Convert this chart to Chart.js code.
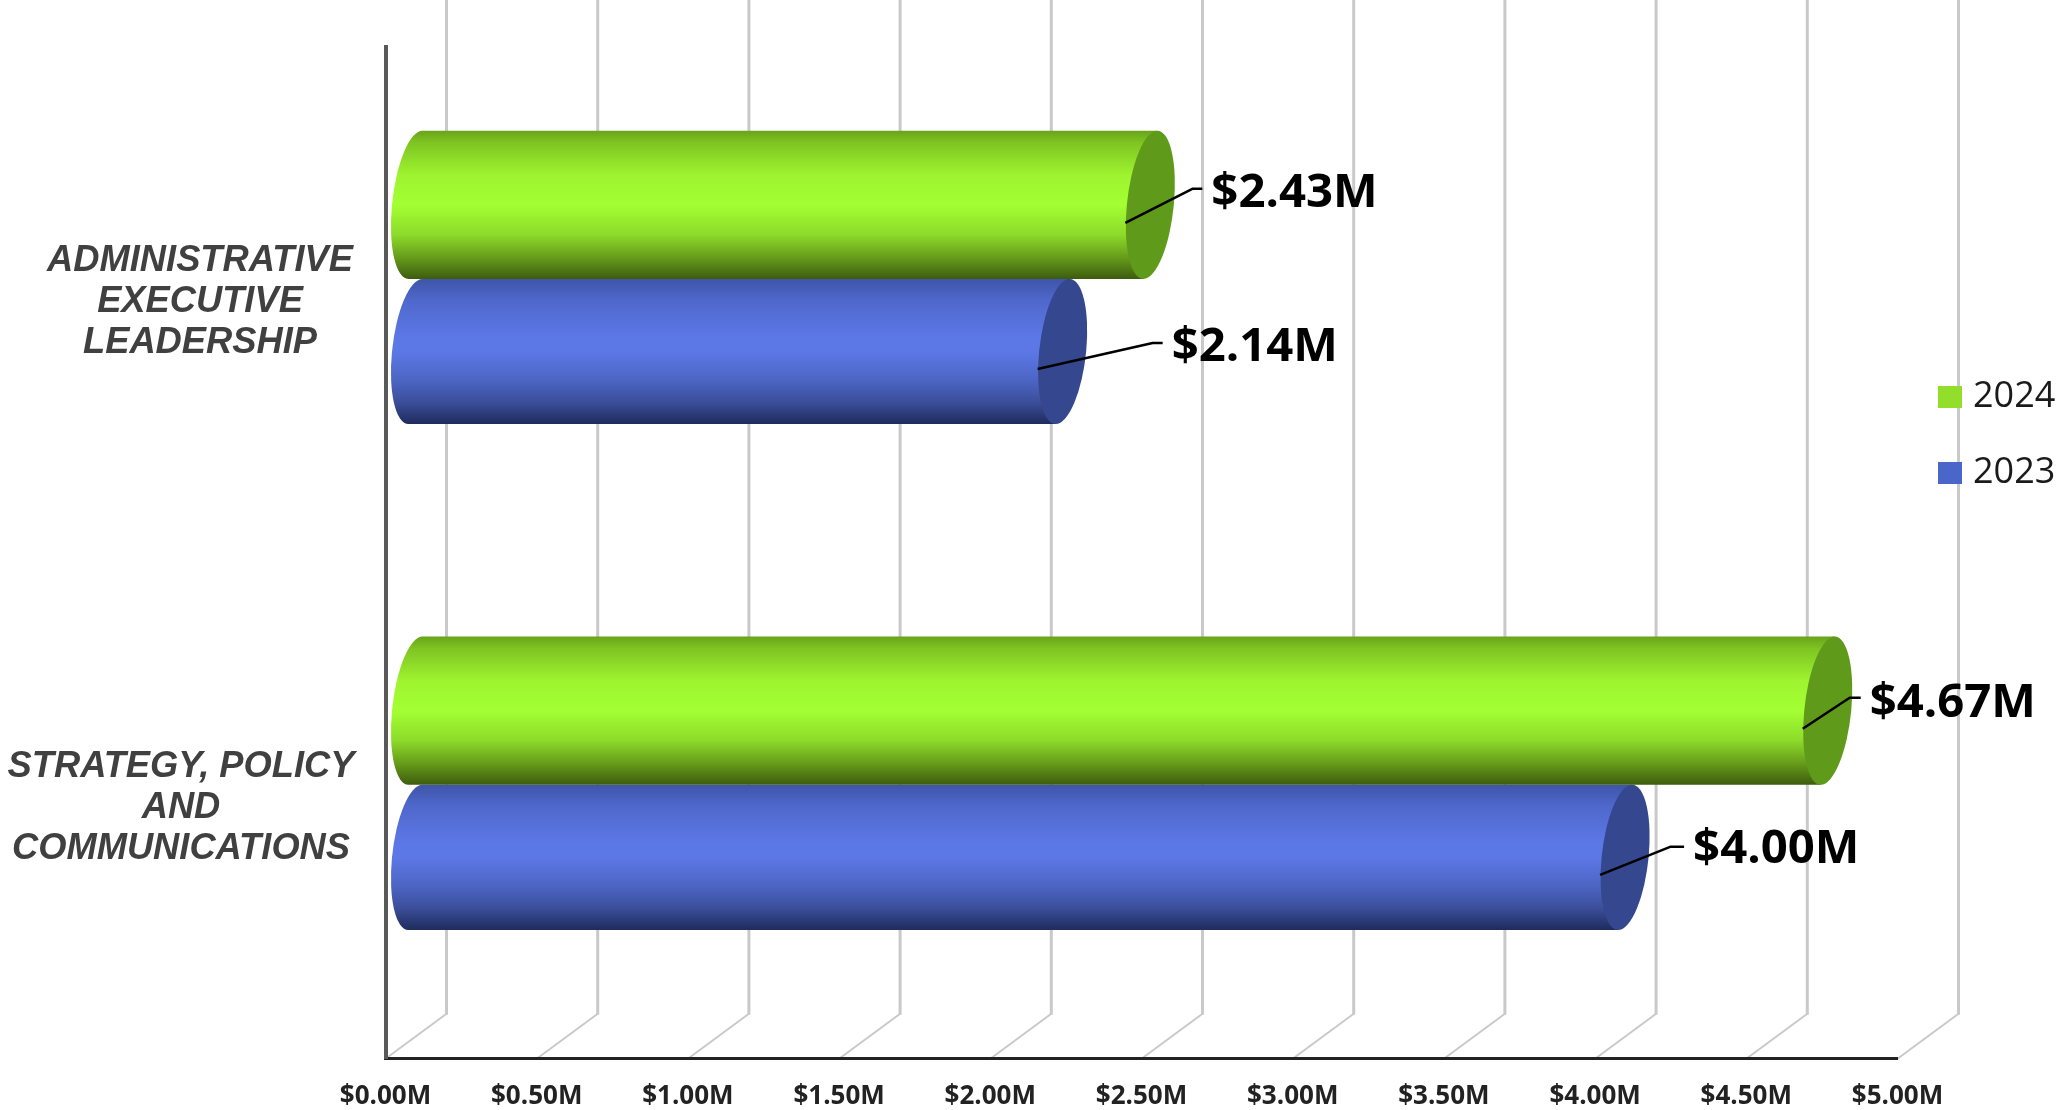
<!DOCTYPE html>
<html>
<head>
<meta charset="utf-8">
<style>html,body{margin:0;padding:0;background:#fff}canvas{display:block}</style>
<script src="https://cdn.jsdelivr.net/npm/chart.js@4/dist/chart.umd.min.js"></script>
</head>
<body>
<canvas id="c" width="2059" height="1110"></canvas>
<script>
const categories = [
  ["ADMINISTRATIVE", "EXECUTIVE", "LEADERSHIP"],
  ["STRATEGY, POLICY", "AND", "COMMUNICATIONS"]
];
const years = ["2024", "2023"];
const values2024 = [2.43, 4.67];
const values2023 = [2.14, 4.00];
const swatches = ["#93de2b", "#4a66c8"];

// styling and layout constants
const DEPTH_X = 61, DEPTH_Y = 45;          // floor depth of the 3D box
const MID_X = 30, MID_Y = 21;              // cylinders sit mid-depth
const CAP_RX = 23.5, CAP_SHEAR = 7;
const GROW = [2, -1];                      // green reads slightly thicker than blue
const GREEN_STOPS = [[0,"#6aa31a"],[.08,"#7fc422"],[.3,"#9ef42f"],[.5,"#a3ff33"],[.7,"#8ddb2a"],[.85,"#689e1b"],[1,"#3d5c0e"]];
const BLUE_STOPS = [[0,"#3f55a8"],[.15,"#4f68cc"],[.4,"#5c78e6"],[.5,"#5c78e6"],[.7,"#4c65c3"],[.85,"#3b4e9a"],[1,"#1f2b5c"]];
const STOPS = [GREEN_STOPS, BLUE_STOPS];
const CAPS = ["#5f9a1b", "#34478f"];
const CATEGORY_CENTER_X = [200, 181];
// leader geometry per dataset / category, relative to the bar end
const LEADERS = [
  [{tx:91, ty:-12.5, ex:72, ey:-17}, {tx:72, ty:-8.5, ex:52, ey:-14}],
  [{tx:139, ty:-4.5, ex:120, ey:-9}, {tx:98, ty:-8.5, ex:75, ey:-11}]
];

const cylinder3d = {
  id: "cylinder3d",
  beforeDraw(chart) {
    const {ctx, scales:{x}, chartArea} = chart;
    ctx.save();
    ctx.strokeStyle = "#c9c9c9";
    ctx.lineJoin = "miter";
    x.ticks.forEach((t, i) => {
      const px = x.getPixelForTick(i), b = chartArea.bottom;
      ctx.lineWidth = 2;
      ctx.beginPath(); ctx.moveTo(px, b); ctx.lineTo(px + DEPTH_X, b - DEPTH_Y); ctx.stroke();
      ctx.lineWidth = 3;
      ctx.beginPath(); ctx.moveTo(px + DEPTH_X, b - DEPTH_Y + 1); ctx.lineTo(px + DEPTH_X, 0); ctx.stroke();
    });
    ctx.restore();
  },
  beforeDatasetDraw(chart, args) {
    const {ctx} = chart, di = args.index;
    args.meta.data.forEach(el => {
      const grow = GROW[di];
      const cy = el.y - MID_Y + (di === 0 ? -grow / 2 : grow === 0 ? 0 : -grow / 2 * -1);
      const ry = el.height / 2 + grow / 2;
      const x0 = el.base + MID_X, x1 = el.x + MID_X;
      const shear = -CAP_SHEAR / ry;
      const g = ctx.createLinearGradient(0, cy - ry, 0, cy + ry);
      STOPS[di].forEach(s => g.addColorStop(s[0], s[1]));
      ctx.save();
      ctx.fillStyle = g;
      ctx.beginPath();
      ctx.save();
      ctx.transform(1, 0, shear, 1, x0, cy);
      ctx.ellipse(0, 0, CAP_RX, ry, 0, -Math.PI/2, Math.PI/2, true);
      ctx.restore();
      ctx.lineTo(x1 - CAP_SHEAR, cy + ry);
      ctx.lineTo(x1 + CAP_SHEAR, cy - ry);
      ctx.closePath();
      ctx.fill();
      ctx.save();
      ctx.transform(1, 0, shear, 1, x1, cy);
      ctx.fillStyle = CAPS[di];
      ctx.beginPath();
      ctx.ellipse(0, 0, CAP_RX, ry, 0, 0, Math.PI*2);
      ctx.fill();
      ctx.restore();
      ctx.restore();
    });
    return false;
  },
  afterDatasetsDraw(chart) {
    const {ctx, scales:{y}} = chart;
    ctx.save();
    // value labels with leader lines
    chart.data.datasets.forEach((ds, di) => {
      chart.getDatasetMeta(di).data.forEach((el, i) => {
        const L = LEADERS[di][i], cy = el.y - MID_Y;
        ctx.strokeStyle = "#000"; ctx.lineWidth = 2.5; ctx.lineJoin = "round";
        ctx.beginPath();
        ctx.moveTo(el.x + 5, cy + 17);
        ctx.lineTo(el.x + L.ex, cy + L.ey);
        ctx.lineTo(el.x + L.tx - 9, cy + L.ey);
        ctx.stroke();
        ctx.fillStyle = "#000";
        ctx.font = "700 47.3px 'Open Sans'";
        ctx.textAlign = "left"; ctx.textBaseline = "middle";
        ctx.fillText("$" + ds.data[i].toFixed(2) + "M", el.x + L.tx, cy + L.ty);
      });
    });
    // category labels
    ctx.fillStyle = "#404040";
    ctx.font = "italic bold 36.3px 'Liberation Sans'";
    ctx.textAlign = "center"; ctx.textBaseline = "middle";
    chart.data.labels.forEach((lines, i) => {
      const c = y.getPixelForTick(i) + 2.5;
      lines.forEach((t, k) => ctx.fillText(t, CATEGORY_CENTER_X[i], c + (k - 1) * 41));
    });
    // legend
    chart.data.datasets.forEach((ds, di) => {
      const ly = 397 + di * 76;
      ctx.fillStyle = swatches[di];
      ctx.fillRect(1938, ly - 11, 24, 22);
      ctx.fillStyle = "#1a1a1a";
      ctx.font = "36px 'Open Sans'";
      ctx.textAlign = "left"; ctx.textBaseline = "middle";
      ctx.fillText(ds.label, 1973, ly);
    });
    ctx.restore();
  }
};

new Chart(document.getElementById("c"), {
  type: "bar",
  data: {
    labels: categories,
    datasets: [
      {label: years[0], data: values2024, backgroundColor: swatches[0]},
      {label: years[1], data: values2023, backgroundColor: swatches[1]}
    ]
  },
  options: {
    indexAxis: "y",
    responsive: false,
    animation: false,
    devicePixelRatio: 1,
    layout: {padding: {top: 47, right: 161.5, left: 0, bottom: 0}},
    barPercentage: 1,
    categoryPercentage: 0.578,
    plugins: {legend: {display: false}, tooltip: {enabled: false}, title: {display: false}},
    scales: {
      x: {
        type: "linear", min: 0, max: 5,
        afterFit(s) { s.height = 51.3; },
        grid: {display: false},
        border: {display: true, color: "#222", width: 3},
        ticks: {
          stepSize: 0.5, autoSkip: false, maxRotation: 0, padding: 14,
          color: "#222",
          font: {family: "'Open Sans'", size: 26, weight: "700"},
          callback: v => "$" + Number(v).toFixed(2) + "M"
        }
      },
      y: {
        type: "category",
        afterFit(s) { s.width = 385.5; },
        grid: {display: false},
        border: {display: true, color: "#595959", width: 4},
        ticks: {display: false}
      }
    }
  },
  plugins: [cylinder3d]
});
</script>
</body>
</html>
